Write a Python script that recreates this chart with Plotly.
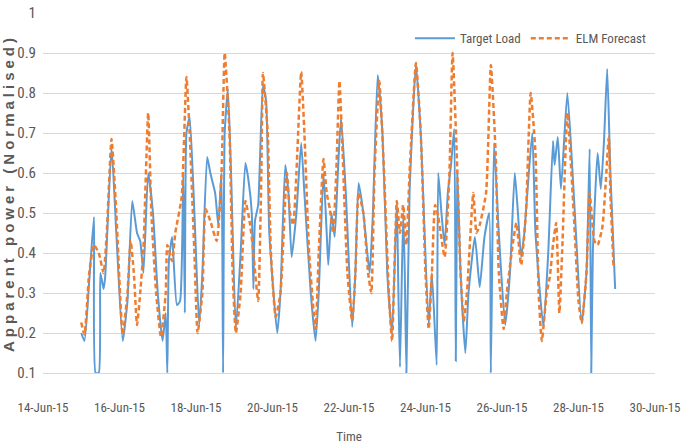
import pandas as pd
import plotly.graph_objects as go

# Hours after 14-Jun-15 00:00 and normalised apparent power
target_hours = [24, 26, 29, 32, 33, 35, 36, 38, 39, 43, 46, 50, 53, 56, 59, 61, 63, 66, 69, 72,
                75, 77, 78, 79, 81, 84, 86, 88, 89, 90, 92, 95, 98, 100, 103, 105, 108, 110, 112, 113,
                114, 116, 118, 121, 124, 127, 129, 131, 132, 133, 135, 138, 140, 142, 147, 149, 152, 154, 156, 159,
                162, 164, 168, 171, 173, 176, 178, 179, 181, 183, 185, 187, 190, 194, 196, 198, 201, 204, 205, 207,
                210, 213, 216, 219, 222, 223, 224, 226, 227, 228, 230, 234, 237, 242, 244, 247, 248, 250, 252, 254,
                256, 258, 259, 260, 262, 265, 267, 271, 274, 277, 280, 281, 283, 286, 290, 293, 296, 298, 300, 302,
                307, 309, 314, 317, 320, 321, 323, 325, 329, 333, 338, 341, 343, 344, 345, 348, 350, 352, 354, 356,
                359]
target_load = [0.20, 0.18, 0.33, 0.49, 0.10, 0.10, 0.35, 0.31, 0.34, 0.665, 0.45, 0.18, 0.28, 0.53, 0.45, 0.43, 0.35, 0.60, 0.50, 0.30,
               0.18, 0.25, 0.10, 0.38, 0.44, 0.27, 0.28, 0.60, 0.25, 0.70, 0.74, 0.50, 0.22, 0.35, 0.64, 0.60, 0.55, 0.47, 0.60, 0.10,
               0.70, 0.81, 0.60, 0.21, 0.40, 0.625, 0.58, 0.50, 0.31, 0.48, 0.52, 0.82, 0.78, 0.45, 0.20, 0.30, 0.62, 0.55, 0.39, 0.50,
               0.675, 0.55, 0.30, 0.18, 0.30, 0.60, 0.45, 0.37, 0.50, 0.44, 0.60, 0.74, 0.55, 0.215, 0.35, 0.575, 0.50, 0.38, 0.35, 0.50,
               0.845, 0.70, 0.35, 0.20, 0.53, 0.30, 0.115, 0.50, 0.35, 0.10, 0.55, 0.87, 0.70, 0.22, 0.35, 0.12, 0.60, 0.50, 0.42, 0.55,
               0.62, 0.71, 0.13, 0.60, 0.35, 0.15, 0.30, 0.44, 0.315, 0.44, 0.50, 0.10, 0.675, 0.45, 0.22, 0.35, 0.60, 0.50, 0.39, 0.45,
               0.70, 0.45, 0.215, 0.40, 0.68, 0.62, 0.69, 0.56, 0.80, 0.55, 0.225, 0.35, 0.66, 0.10, 0.40, 0.65, 0.56, 0.68, 0.86, 0.60,
               0.31]

forecast_hours = [24, 26, 29, 32, 35, 38, 40, 43, 46, 50, 53, 55, 57, 59, 61, 63, 66, 68, 71, 74,
                  77, 78, 81, 83, 87, 90, 92, 95, 97, 100, 102, 105, 109, 112, 114, 117, 119, 121, 124, 127,
                  130, 132, 135, 137, 138, 141, 143, 146, 149, 153, 155, 157, 159, 162, 164, 167, 171, 173, 176, 178,
                  180, 182, 184, 186, 188, 191, 194, 196, 198, 201, 204, 206, 208, 211, 214, 217, 219, 222, 224, 226,
                  228, 230, 234, 237, 240, 242, 244, 246, 248, 252, 255, 257, 260, 262, 264, 266, 270, 272, 274, 278,
                  281, 284, 286, 289, 291, 295, 297, 300, 303, 306, 309, 311, 313, 316, 318, 320, 322, 324, 326, 329,
                  333, 336, 338, 341, 343, 346, 348, 351, 353, 355, 356, 358]
elm_forecast = [0.226, 0.196, 0.35, 0.42, 0.40, 0.35, 0.45, 0.685, 0.50, 0.196, 0.30, 0.43, 0.35, 0.22, 0.30, 0.41, 0.75, 0.50, 0.30, 0.19,
                0.30, 0.42, 0.38, 0.45, 0.54, 0.84, 0.70, 0.40, 0.20, 0.30, 0.51, 0.48, 0.43, 0.60, 0.90, 0.70, 0.35, 0.20, 0.30, 0.53,
                0.47, 0.40, 0.28, 0.60, 0.85, 0.70, 0.40, 0.24, 0.30, 0.60, 0.50, 0.47, 0.60, 0.853, 0.70, 0.40, 0.21, 0.40, 0.635, 0.55,
                0.51, 0.45, 0.60, 0.83, 0.65, 0.35, 0.23, 0.35, 0.55, 0.50, 0.35, 0.30, 0.60, 0.83, 0.60, 0.30, 0.18, 0.53, 0.45, 0.52,
                0.42, 0.60, 0.875, 0.70, 0.35, 0.21, 0.35, 0.52, 0.49, 0.39, 0.60, 0.90, 0.60, 0.35, 0.23, 0.30, 0.55, 0.45, 0.47, 0.55,
                0.87, 0.65, 0.35, 0.21, 0.30, 0.43, 0.475, 0.37, 0.50, 0.80, 0.65, 0.30, 0.18, 0.30, 0.34, 0.42, 0.475, 0.25, 0.43, 0.75,
                0.50, 0.28, 0.225, 0.35, 0.55, 0.43, 0.42, 0.465, 0.57, 0.69, 0.55, 0.365]

x_range = ["2015-06-14", "2015-06-30"]
y_ticks = [0.1, 0.2, 0.3, 0.4, 0.5, 0.6, 0.7, 0.8, 0.9, 1.0]

base = pd.Timestamp("2015-06-14")
t_target = base + pd.to_timedelta(target_hours, unit="h")
t_fc = base + pd.to_timedelta(forecast_hours, unit="h")

NARROW = "Liberation Sans Narrow, Arial Narrow, Roboto Condensed, Roboto, sans-serif"
GREY = "#595959"

fig = go.Figure()
fig.add_trace(go.Scatter(x=t_target, y=target_load, mode="lines", name="Target Load",
                         line=dict(color="#5B9BD5", width=2, shape="spline", smoothing=0.5)))
fig.add_trace(go.Scatter(x=t_fc, y=elm_forecast, mode="lines", name="ELM Forecast",
                         line=dict(color="#ED7D31", width=2.5, dash="5px,3px", shape="spline", smoothing=0.5)))

fig.update_layout(
    width=684, height=444,
    margin=dict(l=43, r=29, t=13, b=71),
    paper_bgcolor="white", plot_bgcolor="white",
    font=dict(family=NARROW, color=GREY, size=13),
    showlegend=True,
    legend=dict(orientation="h", x=0.995, xanchor="right", y=0.93, yanchor="middle",
                bgcolor="rgba(0,0,0,0)", font=dict(family=NARROW, size=13, color=GREY),
                itemwidth=40, tracegroupgap=0),
)
fig.update_xaxes(
    type="date", range=x_range, dtick=2 * 86400000, tick0="2015-06-14",
    tickformat="%d-%b-%y", showgrid=False, showline=True, linecolor="#D9D9D9", linewidth=1,
    ticks="", ticklabelstandoff=22, tickfont=dict(family=NARROW, size=13, color=GREY),
    title=dict(text="Time", font=dict(family=NARROW, size=13, color=GREY), standoff=19),
    automargin=False, zeroline=False,
)
fig.update_yaxes(
    range=[0.1, 1.0], tickvals=y_ticks, showgrid=True, gridcolor="#D9D9D9", gridwidth=1,
    showline=False, zeroline=False, ticks="", ticklabelstandoff=6,
    tickfont=dict(family=NARROW, size=15, color=GREY),
    title=dict(text="<span style=\"letter-spacing:4px\">Apparent power (Normalised)</span>",
               font=dict(family="Liberation Sans, Arial, sans-serif", size=15, color=GREY, weight="bold"),
               standoff=8),
    automargin=False,
)

fig.write_html("out.html")
